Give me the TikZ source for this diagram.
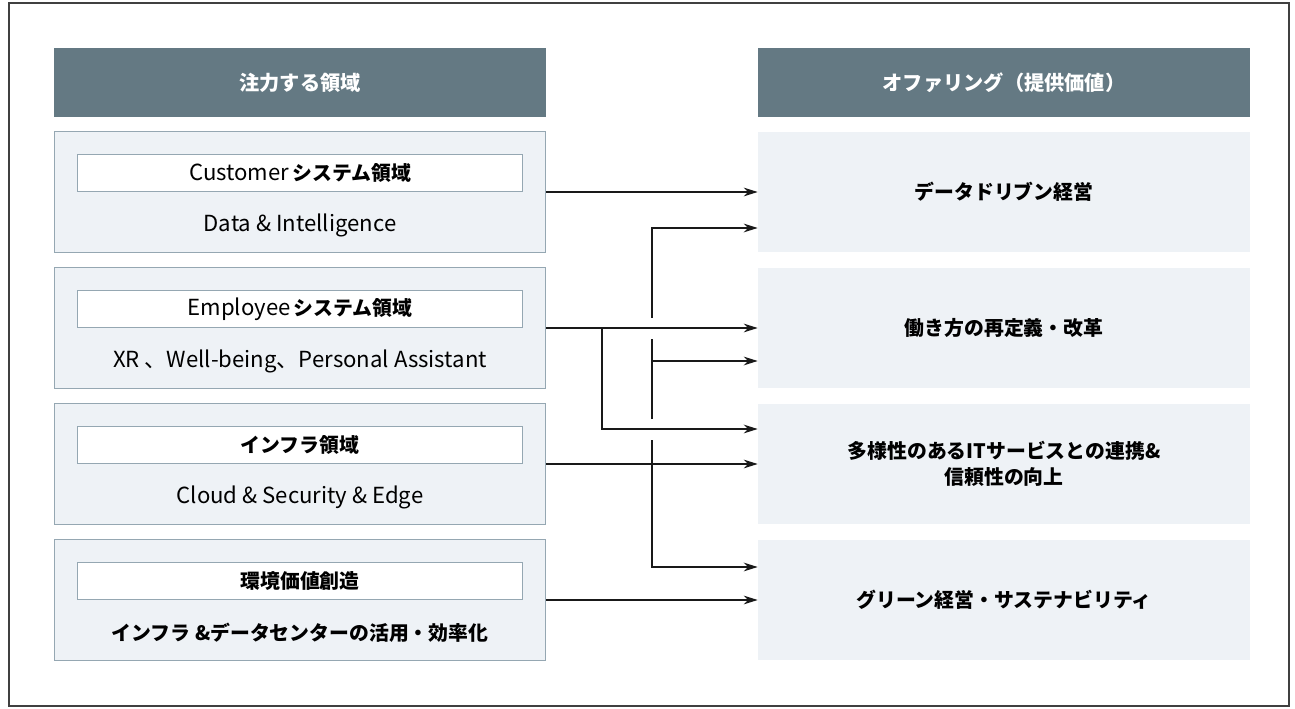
\documentclass[tikz,border=0pt]{standalone}
\usepackage{fontspec}
\setmainfont{Noto Sans CJK JP}
\usepackage{xcolor}
\usetikzlibrary{
  positioning,
  arrows.meta,
  calc
}
\definecolor{headgray}{HTML}{647983}
\definecolor{paleblue}{HTML}{EEF2F6}
\definecolor{edgegray}{HTML}{95A7B2}
\newcommand{\bigtxt}{\fontsize{12.6}{15}\selectfont}

\begin{document}
\begin{tikzpicture}[
  x=0.02cm, y=-0.02cm,
  >={Stealth[length=8pt, width=5pt, inset=2.5pt]},
  font=\fontsize{11.3}{14.5}\selectfont,
  every node/.style={inner sep=1pt},
  head/.style={fill=headgray, text=white, font=\fontsize{11.5}{14.5}\selectfont\bfseries,
    minimum width=9.84cm, minimum height=1.38cm},
  lbox/.style={fill=paleblue, draw=edgegray, line width=0.6pt,
    minimum width=9.84cm, minimum height=2.42cm},
  tagbox/.style={fill=white, draw=edgegray, line width=0.6pt,
    minimum width=8.92cm, minimum height=0.74cm},
  rbox/.style={fill=paleblue, minimum width=9.84cm, minimum height=2.4cm,
    align=center, font=\fontsize{11.3}{14.5}\selectfont\bfseries},
  link/.style={->, line width=0.7pt, black!90}
]
  \useasboundingbox (0,0) rectangle (1295,709);
  \draw[black!75, line width=0.9pt] (9,3) rectangle (1289,706);

  \node[head] (lhead) at (300,82.5) {注力する領域};
  \node[head] (rhead) at (1004,82.5) {オファリング（提供価値）};

  \foreach \i/\yy/\title/\sub in {
    1/192/{{\bigtxt Customer}\,\textbf{システム領域}}/{\bigtxt Data \& Intelligence},
    2/328/{{\bigtxt Employee}\,\textbf{システム領域}}/{\bigtxt XR 、Well-being、Personal Assistant},
    3/464/{\textbf{インフラ領域}}/{\bigtxt Cloud \& Security \& Edge},
    4/600/{\textbf{環境価値創造}}/{\textbf{インフラ \&データセンターの活用・効率化}}}
  {
    \node[lbox] (l\i) at (300,\yy) {};
    \node[tagbox, below=0.46cm of l\i.north] (tag\i) {\title};
    \node (sub\i) at ([yshift=-0.66cm]l\i.center) {\sub};
  }

  \foreach \i/\yy/\txt in {
    1/192/データドリブン経営,
    2/328/働き方の再定義・改革,
    3/464/{多様性のあるITサービスとの連携\&\\信頼性の向上},
    4/600/グリーン経営・サステナビリティ}
    \node[rbox] (r\i) at (1004,\yy) {\txt};

  \coordinate (empfork) at (602,328);
  \coordinate (infrafork) at (652,464);
  \coordinate (t1) at ([yshift=-0.72cm]r1.west);
  \coordinate (t2) at ([yshift=-0.66cm]r2.west);
  \coordinate (t3) at ([yshift=0.7cm]r3.west);
  \coordinate (t4) at ([yshift=0.66cm]r4.west);

  \draw[link] (l1.east) -- (r1.west);
  \draw[link] (l2.east) -- (r2.west);
  \draw[link] (empfork) |- (t3);
  % 縦線は交差部で切る
  \draw[line width=0.7pt, black!90] (infrafork) -- ($(t3 -| infrafork)+(0,11)$)
    ($(t3 -| infrafork)+(0,-10)$) -- ($(l2.east -| infrafork)+(0,11)$);
  \draw[link] ($(l2.east -| infrafork)+(0,-10)$) |- (t1);
  \draw[link] (t2 -| infrafork) -- (t2);
  \draw[link] (infrafork) |- (t4);
  \draw[link] (l3.east) -- (r3.west);
  \draw[link] (l4.east) -- (r4.west);
\end{tikzpicture}
\end{document}
